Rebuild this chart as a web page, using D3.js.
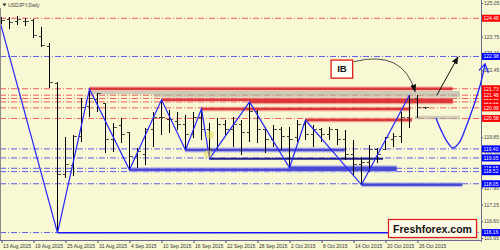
<!DOCTYPE html>
<html>
<head>
<meta charset="utf-8">
<script src="https://cdn.jsdelivr.net/npm/d3@7"></script>
<style>
  html, body { margin: 0; padding: 0; background: #f8f8d4; }
  svg { display: block; }
  text { font-family: "Liberation Sans", Arial, sans-serif; }
</style>
</head>
<body>
<div id="chart"></div>
<script>
// USDJPY daily bars
var dates = ["2015-08-13","2015-08-14","2015-08-17","2015-08-18","2015-08-19","2015-08-20","2015-08-21",
    "2015-08-24","2015-08-25","2015-08-26","2015-08-27","2015-08-28","2015-08-31","2015-09-01","2015-09-02",
    "2015-09-03","2015-09-04","2015-09-07","2015-09-08","2015-09-09","2015-09-10","2015-09-11","2015-09-14",
    "2015-09-15","2015-09-16","2015-09-17","2015-09-18","2015-09-21","2015-09-22","2015-09-23","2015-09-24",
    "2015-09-25","2015-09-28","2015-09-29","2015-09-30","2015-10-01","2015-10-02","2015-10-05","2015-10-06",
    "2015-10-07","2015-10-08","2015-10-09","2015-10-12","2015-10-13","2015-10-14","2015-10-15","2015-10-16",
    "2015-10-19","2015-10-20","2015-10-21","2015-10-22","2015-10-23","2015-10-26","2015-10-27"];
var open = [124.43,124.43,124.35,124.35,124.39,123.77,123.35,121.92,118.40,118.74,119.87,121.03,121.30,121.14,
    119.75,120.29,120.02,119.09,119.17,120.14,120.60,120.52,120.45,120.33,119.94,120.60,120.14,119.36,120.33,
    120.14,120.33,120.02,120.83,120.14,119.75,120.14,119.87,119.83,120.33,119.94,120.14,119.94,120.14,119.75,
    119.17,118.78,118.86,119.36,119.36,119.75,119.87,120.60,121.37,120.99];
var high = [124.51,124.51,124.55,124.47,124.43,124.12,123.50,121.99,119.87,119.94,121.37,121.72,121.57,121.18,
    120.41,120.60,120.06,119.44,120.21,120.83,121.30,120.91,120.83,120.72,120.83,120.95,120.41,120.60,120.52,
    120.64,120.52,121.22,120.91,120.25,120.33,120.25,120.25,120.52,120.52,120.33,120.21,120.25,120.14,120.14,
    119.75,119.09,119.56,119.44,119.87,120.02,120.83,121.49,121.49,121.03];
var low = [124.24,124.04,124.20,124.16,123.70,123.35,121.76,116.15,118.28,118.36,119.67,120.64,120.83,119.25,
    119.29,119.63,118.59,118.67,118.78,119.48,119.94,120.02,120.14,119.36,119.83,119.75,119.02,119.36,119.94,
    119.48,119.17,119.67,119.63,119.25,119.48,119.36,118.67,119.67,119.75,119.48,119.67,119.75,119.56,118.98,
    118.40,118.01,118.51,118.86,119.36,119.48,119.63,120.21,120.60,120.95];
var close = [124.39,124.31,124.43,124.35,123.81,123.39,121.99,118.40,118.78,119.87,120.99,121.37,121.53,119.75,
    120.21,119.94,119.09,119.29,120.14,120.60,120.60,120.52,120.33,119.94,120.60,120.14,119.36,120.33,120.14,
    120.33,120.02,120.83,120.14,119.75,120.14,119.87,119.75,120.33,119.94,120.14,119.94,120.14,119.75,119.17,
    118.78,118.86,119.36,119.17,119.83,119.87,120.60,121.30,120.99,120.99];

// zigzag turning points (bar index, price)
var zigIndex = [-1, 7, 11, 16, 20, 23, 25, 26, 31, 36, 38, 45, 51];
var zigPrice = [125.25, 116.15, 121.72, 118.59, 121.30, 119.36, 120.95, 119.02, 121.22, 118.67, 120.52, 118.01, 121.49];

// dash-dot levels across the whole chart
var resistLevels = [121.22, 121.35, 121.48, 121.73, 124.46, 120.99, 120.58];
var supportLevels = [122.98, 119.40, 119.05, 118.65, 118.52, 118.05, 116.16];

// thick level lines: price, from bar, to bar
var redZones = [[121.73, 11, 56.4], [121.30, 20, 56.4], [121.22, 31, 56.4], [120.95, 25, 51.1], [120.52, 38, 51.3]];
var grayZones = [[121.57, 11, 57.3], [121.47, 19, 57.3], [120.62, 51.7, 57.3]];
var blueZones = [[119.36, 23, 42.9], [118.59, 16, 49.4], [118.67, 36, 49.4], [118.01, 45, 57.6]];
var navyZones = [[119.02, 26, 47.7]];
var lowZones = [[116.15, 7, 55.7]];

// projected path (bar index, price)
var projIndex = [54.31, 55.06, 55.81, 56.44, 57.19, 58.06, 59.06, 59.94, 60.44];
var projPrice = [120.60, 120.05, 119.63, 119.44, 119.63, 120.25, 121.10, 121.99, 122.69];

// price axis ticks
var priceTicks = [125.05, 124.40, 123.75, 123.10, 122.45, 121.80, 121.15, 120.50, 119.85, 119.20,
    118.55, 117.90, 117.25, 116.60, 115.95];

(function () {
    var W = 500, H = 250, plotRight = 481, plotBottom = 240;

    var x = d3.scaleLinear().domain([0, 60]).range([1.5, 481.5]);
    var y = d3.scaleLinear().domain([115.95, 125.05]).range([238, 3]);
    var parse = d3.timeParse("%Y-%m-%d"), fmt = d3.timeFormat("%-d %b %Y");

    var svg = d3.select("#chart").append("svg")
        .attr("width", W)
        .attr("height", H);

    svg.append("rect").attr("width", W).attr("height", H).attr("fill", "#f8f8d4");

    var defs = svg.append("defs");
    defs.append("clipPath").attr("id", "plot")
        .append("rect").attr("width", plotRight).attr("height", plotBottom);
    defs.append("marker").attr("id", "headBlack")
        .attr("markerUnits", "userSpaceOnUse").attr("markerWidth", 10).attr("markerHeight", 8)
        .attr("refX", 7).attr("refY", 3).attr("orient", "auto")
        .append("path").attr("d", "M0,0L8,3L0,6Z").attr("fill", "#111");
    defs.append("marker").attr("id", "headBlue")
        .attr("markerUnits", "userSpaceOnUse").attr("markerWidth", 12).attr("markerHeight", 12)
        .attr("refX", 8).attr("refY", 5).attr("orient", "auto")
        .append("path").attr("d", "M0,0L8,5L0,10").attr("fill", "none")
        .attr("stroke", "#2020ff").attr("stroke-width", 1.2);

    var plot = svg.append("g").attr("clip-path", "url(#plot)");

    // dash-dot levels
    function dashLine(p, color) {
        plot.append("line")
            .attr("x1", 0).attr("x2", plotRight)
            .attr("y1", y(p)).attr("y2", y(p))
            .attr("stroke", color).attr("stroke-width", 1)
            .attr("stroke-dasharray", "6,2,1,2");
    }
    resistLevels.forEach(function (p) { dashLine(p, "#f05a5a"); });
    supportLevels.forEach(function (p) { dashLine(p, "#5a5af0"); });

    // thick level lines
    function zone(list, color, width, opacity) {
        plot.selectAll(null)
            .data(list)
            .enter()
            .append("line")
            .attr("x1", function (d) { return x(d[1]); })
            .attr("x2", function (d) { return x(d[2]); })
            .attr("y1", function (d) { return y(d[0]); })
            .attr("y2", function (d) { return y(d[0]); })
            .attr("stroke", color)
            .attr("stroke-width", width)
            .attr("opacity", opacity);
    }
    zone(grayZones, "#b4b4a8", 3.5, 0.6);
    zone(redZones, "#f0a0a0", 5, 0.6);
    zone(redZones, "#dd3838", 2.5, 1);
    zone(blueZones, "#a8a8ec", 5, 0.7);
    zone(blueZones, "#4a4ad4", 2.5, 1);
    zone(navyZones, "#20208a", 2, 1);
    zone(lowZones, "#1818ff", 1.5, 1);

    // OHLC bars
    var idx = d3.range(dates.length);
    var bars = plot.append("g").attr("shape-rendering", "crispEdges");
    bars.selectAll(".hl").data(idx).enter().append("line")
        .attr("x1", function (i) { return x(i); }).attr("x2", function (i) { return x(i); })
        .attr("y1", function (i) { return y(high[i]); }).attr("y2", function (i) { return y(low[i]); })
        .attr("stroke", "#000");
    bars.selectAll(".op").data(idx).enter().append("line")
        .attr("x1", function (i) { return x(i) - 3; }).attr("x2", function (i) { return x(i); })
        .attr("y1", function (i) { return y(open[i]); }).attr("y2", function (i) { return y(open[i]); })
        .attr("stroke", "#333");
    bars.selectAll(".cl").data(idx).enter().append("line")
        .attr("x1", function (i) { return x(i); }).attr("x2", function (i) { return x(i) + 3; })
        .attr("y1", function (i) { return y(close[i]); }).attr("y2", function (i) { return y(close[i]); })
        .attr("stroke", "#555");

    // zigzag
    plot.append("path")
        .datum(d3.zip(zigIndex, zigPrice))
        .attr("fill", "none")
        .attr("stroke", "#2424ff")
        .attr("stroke-width", 1.2)
        .attr("d", d3.line()
            .x(function (d) { return x(d[0]); })
            .y(function (d) { return y(d[1]); }));

    // highlight dots
    [[26.06, 119.94], [25.81, 119.20]].forEach(function (d) {
        plot.append("circle").attr("cx", x(d[0])).attr("cy", y(d[1])).attr("r", 4)
            .attr("fill", "#e6dc5a").attr("opacity", 0.55);
    });

    // axes
    var gx = svg.append("g")
        .attr("transform", "translate(0," + plotBottom + ")")
        .call(d3.axisBottom(x)
            .tickValues(d3.range(0, dates.length, 4))
            .tickFormat(function (i) { return fmt(parse(dates[i])); })
            .tickSize(3).tickSizeOuter(0));
    gx.select(".domain").remove();
    gx.selectAll(".tick line").attr("stroke", "#404060");
    gx.selectAll("text")
        .attr("text-anchor", "start").attr("x", 1).attr("y", 4.5)
        .attr("font-size", 5).attr("font-family", "Liberation Sans, Arial, sans-serif").attr("fill", "#333");

    // tick labels hidden behind a level label are left out
    var allLevels = resistLevels.concat(supportLevels);
    var visibleTicks = priceTicks.filter(function (t) {
        return allLevels.every(function (p) { return Math.abs(y(p) - y(t)) > 3; });
    });
    var gy = svg.append("g")
        .attr("transform", "translate(" + plotRight + ",0)")
        .call(d3.axisRight(y)
            .tickValues(visibleTicks)
            .tickFormat(d3.format(".2f"))
            .tickSize(2).tickSizeOuter(0));
    gy.select(".domain").remove();
    gy.selectAll(".tick line").attr("stroke", "#404060");
    gy.selectAll("text")
        .attr("x", 3).attr("font-size", 5)
        .attr("font-family", "Liberation Sans, Arial, sans-serif").attr("fill", "#444");

    svg.append("line").attr("x1", 0).attr("x2", plotRight + 0.5).attr("y1", plotBottom + 0.5).attr("y2", plotBottom + 0.5)
        .attr("stroke", "#6a6a90");
    svg.append("line").attr("x1", plotRight + 0.5).attr("x2", plotRight + 0.5).attr("y1", 0).attr("y2", plotBottom + 2)
        .attr("stroke", "#6a6a90");
    svg.append("line").attr("x1", 0.5).attr("x2", 0.5).attr("y1", 8).attr("y2", plotBottom)
        .attr("stroke", "#8a8a8a");

    // price labels on the axis
    function levelLabel(p, color) {
        svg.append("rect")
            .attr("x", plotRight + 1).attr("y", y(p) - 3.5)
            .attr("width", 18.5).attr("height", 7).attr("fill", color);
        svg.append("text")
            .attr("x", plotRight + 2.5).attr("y", y(p) + 1.8)
            .attr("font-size", 5).attr("fill", "#fff")
            .text(p.toFixed(2));
    }
    resistLevels.forEach(function (p) { levelLabel(p, "#ff0000"); });
    supportLevels.forEach(function (p) { levelLabel(p, "#0000ff"); });

    // projection path
    svg.append("path")
        .datum(d3.zip(projIndex, projPrice))
        .attr("fill", "none")
        .attr("stroke", "#2020ff")
        .attr("stroke-width", 1.3)
        .attr("marker-end", "url(#headBlue)")
        .attr("d", d3.line()
            .curve(d3.curveCatmullRom)
            .x(function (d) { return x(d[0]); })
            .y(function (d) { return y(d[1]); }));

    // straight up arrow
    svg.append("line")
        .attr("x1", x(54.4)).attr("y1", y(121.47))
        .attr("x2", x(57.06)).attr("y2", y(122.96))
        .attr("stroke", "#111").attr("stroke-width", 1)
        .attr("marker-end", "url(#headBlack)");

    // curved arrow from IB label
    svg.append("path")
        .attr("d", "M" + x(44.06) + "," + y(122.78) +
            "Q" + x(50.2) + "," + y(123.25) + " " + x(51.7) + "," + y(121.62))
        .attr("fill", "none").attr("stroke", "#222").attr("stroke-width", 0.8)
        .attr("marker-end", "url(#headBlack)");

    // IB label
    svg.append("rect")
        .attr("x", x(41.2)).attr("y", y(122.84))
        .attr("width", x(43.9) - x(41.2)).attr("height", y(122.14) - y(122.84))
        .attr("fill", "#fffff4").attr("stroke", "#e01818").attr("stroke-width", 1.3);
    svg.append("text")
        .attr("x", x(42.55)).attr("y", y(122.49) + 3.3)
        .attr("text-anchor", "middle").attr("font-size", 9.5).attr("font-weight", "bold")
        .attr("fill", "#111").text("IB");

    // title
    svg.append("path").attr("d", "M2.5,3.5L6.5,3.5L4.5,6.5Z").attr("fill", "#333");
    svg.append("text").attr("x", 8).attr("y", 6.5).attr("font-size", 5).attr("fill", "#444")
        .text("USDJPY,Daily");

    // watermark
    svg.append("rect").attr("x", 390.5).attr("y", 221.5).attr("width", 88).attr("height", 18)
        .attr("fill", "#c8c8b0").attr("opacity", 0.5);
    svg.append("rect").attr("x", 388.5).attr("y", 219.5).attr("width", 88).attr("height", 18)
        .attr("fill", "#fdfbe8").attr("stroke", "#e01818").attr("stroke-width", 1.2);
    svg.append("text").attr("x", 432.5).attr("y", 232.5).attr("text-anchor", "middle")
        .attr("font-size", 10.5).attr("font-weight", "bold").attr("fill", "#111")
        .text("Freshforex.com");
})();
</script>
</body>
</html>
